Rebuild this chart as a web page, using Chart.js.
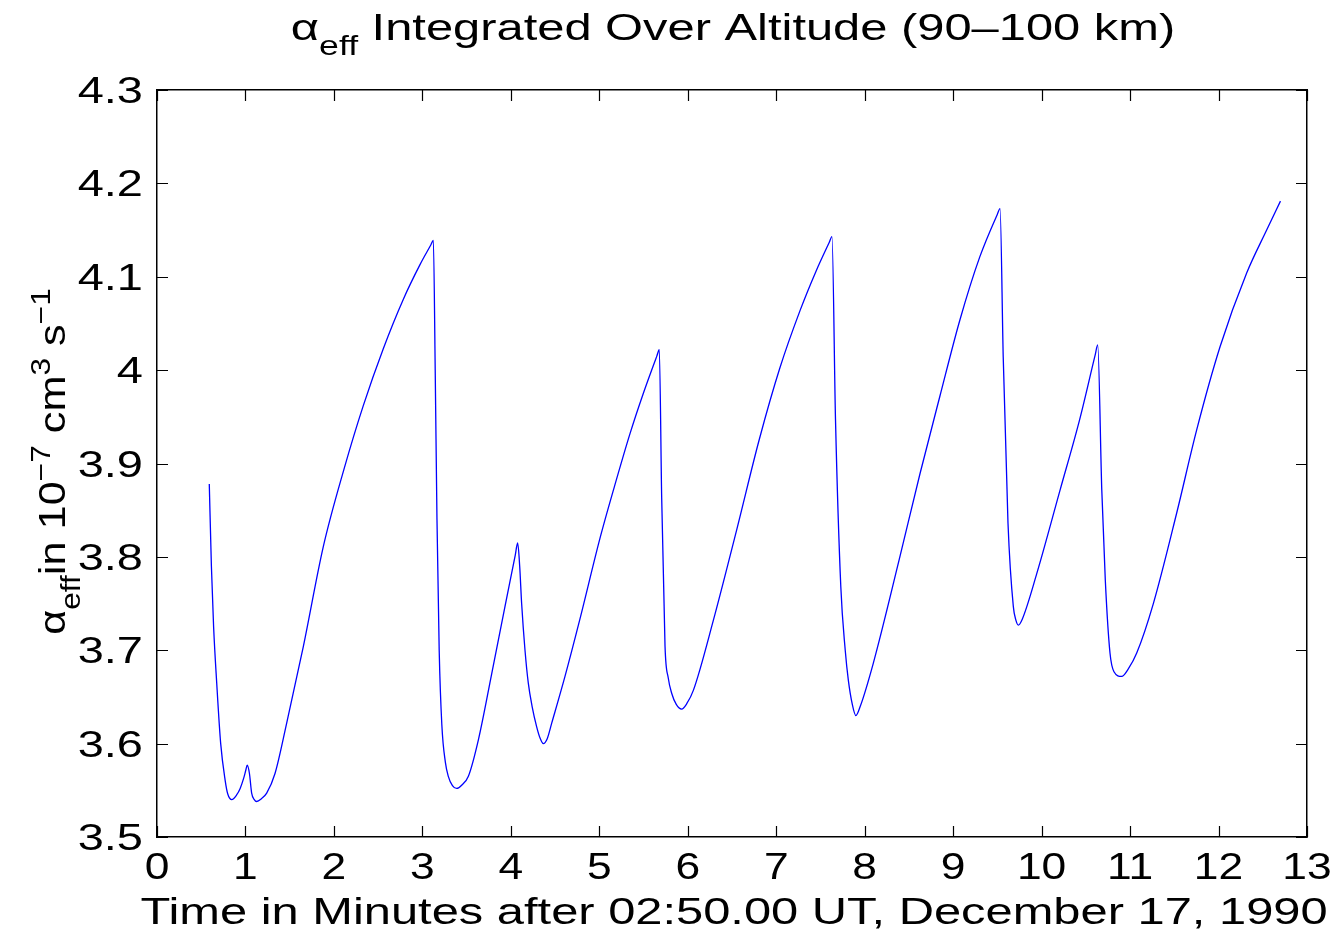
<!DOCTYPE html>
<html>
<head>
<meta charset="utf-8">
<title>alpha_eff integrated over altitude</title>
<script src="https://cdn.jsdelivr.net/npm/chart.js@4/dist/chart.umd.min.js"></script>
<style>
  html, body { margin: 0; padding: 0; background: #ffffff; }
  #wrap { width: 1339px; height: 931px; position: relative; }
</style>
</head>
<body>
<div id="wrap"><canvas id="c" width="1339" height="931"></canvas></div>
<script>
// Time in minutes after 02:50:00 UT, 17 Dec 1990
const timeMinutes = [
  0.591, 0.615, 0.64, 0.675, 0.72, 0.77, 0.80, 0.845, 0.90, 0.94, 0.98, 1.005, 1.02,
  1.045, 1.07, 1.10, 1.127, 1.18, 1.24, 1.334, 1.466, 1.654, 1.88, 2.114, 2.332,
  2.558, 2.785, 2.973, 3.095, 3.124, 3.145, 3.165, 3.19, 3.22, 3.26, 3.293, 3.34, 3.388,
  3.45, 3.52, 3.633, 3.784, 3.934, 4.05, 4.077, 4.10, 4.122, 4.16, 4.197, 4.24, 4.292,
  4.33, 4.367, 4.41, 4.462, 4.612, 4.78, 5.008, 5.17, 5.347, 5.497, 5.65, 5.678, 5.705, 5.743,
  5.78, 5.818, 5.87, 5.931, 5.99, 6.063, 6.289, 6.553, 6.809, 7.04, 7.27, 7.45,
  7.60, 7.63, 7.67, 7.73, 7.78, 7.815, 7.86, 7.90, 7.95, 8.097, 8.39, 8.625, 8.85,
  9.077, 9.30, 9.50, 9.53, 9.566, 9.62, 9.68, 9.71, 9.737, 9.78, 9.945, 10.21, 10.43,
  10.605, 10.634, 10.68, 10.72, 10.773, 10.818, 10.905, 10.98, 11.075, 11.263, 11.527, 11.753, 12.017,
  12.318, 12.544, 12.70
];

// Effective recombination coefficient, units of 1e-7 cm^3 s^-1
const alphaEff = [
  3.878, 3.790, 3.725, 3.665, 3.600, 3.561, 3.546, 3.540, 3.545, 3.552, 3.563, 3.572, 3.577,
  3.568, 3.547, 3.540, 3.538, 3.541, 3.547, 3.568, 3.622, 3.704, 3.811, 3.894, 3.962,
  4.023, 4.076, 4.113, 4.134, 4.139, 4.000, 3.840, 3.700, 3.620, 3.580, 3.565, 3.555, 3.552,
  3.556, 3.565, 3.604, 3.675, 3.747, 3.802, 3.815, 3.790, 3.750, 3.700, 3.665, 3.640, 3.618,
  3.606, 3.600, 3.605, 3.622, 3.672, 3.733, 3.820, 3.875, 3.932, 3.975, 4.015, 4.022, 3.864, 3.704,
  3.670, 3.654, 3.642, 3.637, 3.643, 3.657, 3.732, 3.829, 3.926, 4.002, 4.064, 4.106,
  4.137, 4.143, 3.947, 3.768, 3.700, 3.668, 3.642, 3.630, 3.640, 3.686, 3.797, 3.889, 3.972,
  4.054, 4.121, 4.167, 4.173, 4.014, 3.836, 3.747, 3.732, 3.727, 3.733, 3.782, 3.872, 3.947,
  4.016, 4.027, 3.872, 3.775, 3.697, 3.677, 3.672, 3.680, 3.697, 3.750, 3.847, 3.936, 4.025,
  4.104, 4.150, 4.181
];

const xTickLabels = ['0','1','2','3','4','5','6','7','8','9','10','11','12','13'];
const yTickLabels = ['3.5','3.6','3.7','3.8','3.9','4','4.1','4.2','4.3'];

const titleParts = [
  { t: 'α', size: 37, dy: 0 },
  { t: 'eff', size: 27, dy: 15 },
  { t: ' Integrated Over Altitude (90–100 km)', size: 37, dy: 0 }
];
const yLabelParts = [
  { t: 'α', size: 37, dy: 0 },
  { t: 'eff', size: 27, dy: 15 },
  { t: 'in 10', size: 37, dy: 0 },
  { t: '−7', size: 27, dy: -15 },
  { t: ' cm', size: 37, dy: 0 },
  { t: '3', size: 27, dy: -15 },
  { t: ' s', size: 37, dy: 0 },
  { t: '−1', size: 27, dy: -15 }
];
const xLabelText = 'Time in Minutes after 02:50.00 UT, December 17, 1990';

const FONT = '"Liberation Sans", Arial, Helvetica, sans-serif';
const TICK_SIZE = 37;

// Mixed-size text (sub/superscripts) centred on (0, 0) in the current transform.
function drawRich(ctx, parts) {
  let total = 0;
  const widths = parts.map(p => {
    ctx.font = p.size + 'px ' + FONT;
    const w = ctx.measureText(p.t).width;
    total += w;
    return w;
  });
  let x = -total / 2;
  ctx.textBaseline = 'alphabetic';
  ctx.textAlign = 'left';
  parts.forEach((p, i) => {
    ctx.font = p.size + 'px ' + FONT;
    ctx.fillText(p.t, x, p.dy);
    x += widths[i];
  });
}

// Text widened along its reading direction, anchored at (x, y).
function wideText(ctx, text, x, y, sx, align, baseline) {
  ctx.save();
  ctx.translate(x, y);
  ctx.scale(sx, 1);
  ctx.textAlign = align;
  ctx.textBaseline = baseline;
  ctx.fillText(text, 0, 0);
  ctx.restore();
}

const frame = {
  id: 'frame',
  afterDraw(chart) {
    const ctx = chart.ctx;
    const a = chart.chartArea;
    const xs = chart.scales.x, ys = chart.scales.y;
    const len = 11;
    ctx.save();
    ctx.strokeStyle = '#000';
    ctx.lineWidth = 1.2;
    ctx.beginPath();
    xs.ticks.forEach(t => {
      const px = Math.round(xs.getPixelForValue(t.value)) + 0.5;
      ctx.moveTo(px, a.bottom); ctx.lineTo(px, a.bottom - len);
      ctx.moveTo(px, a.top); ctx.lineTo(px, a.top + len);
    });
    ys.ticks.forEach(t => {
      const py = Math.round(ys.getPixelForValue(t.value)) + 0.5;
      ctx.moveTo(a.left, py); ctx.lineTo(a.left + len, py);
      ctx.moveTo(a.right, py); ctx.lineTo(a.right - len, py);
    });
    ctx.stroke();

    ctx.fillStyle = '#000';
    ctx.font = TICK_SIZE + 'px ' + FONT;
    xs.ticks.forEach((t, i) => {
      const px = xs.getPixelForValue(t.value);
      wideText(ctx, xTickLabels[i] ?? String(t.value), px, a.bottom + 42, 1.2, 'center', 'alphabetic');
    });
    ys.ticks.forEach((t, i) => {
      const py = ys.getPixelForValue(t.value);
      const lab = yTickLabels[i] ?? String(Math.round(t.value * 10) / 10);
      wideText(ctx, lab, a.left - 14, py + 13, 1.27, 'right', 'alphabetic');
    });

    const cx = (a.left + a.right) / 2;
    ctx.save();
    ctx.translate(cx + 1, 40);
    ctx.scale(1.32, 1);
    drawRich(ctx, titleParts);
    ctx.restore();

    ctx.font = TICK_SIZE + 'px ' + FONT;
    wideText(ctx, xLabelText, cx + 2, 924, 1.32, 'center', 'alphabetic');

    ctx.save();
    ctx.translate(65, (a.top + a.bottom) / 2 - 2);
    ctx.rotate(-Math.PI / 2);
    ctx.scale(1.17, 1);
    drawRich(ctx, yLabelParts);
    ctx.restore();
    ctx.restore();
  }
};

const points = timeMinutes.map((t, i) => ({ x: t, y: alphaEff[i] }));

new Chart(document.getElementById('c'), {
  type: 'line',
  data: {
    datasets: [{
      data: points,
      borderColor: '#0000ff',
      borderWidth: 1.3,
      pointRadius: 0,
      cubicInterpolationMode: 'monotone',
      fill: false
    }]
  },
  options: {
    responsive: false,
    animation: false,
    layout: { padding: 0 },
    plugins: { legend: { display: false }, tooltip: { enabled: false }, title: { display: false } },
    scales: {
      x: {
        type: 'linear', position: 'bottom', min: 0, max: 13,
        ticks: { stepSize: 1, display: false },
        grid: { drawOnChartArea: false, drawTicks: false },
        border: { display: true, color: '#000', width: 1.5 },
        afterFit: s => { s.height = 94; }
      },
      y: {
        type: 'linear', position: 'left', min: 3.5, max: 4.3,
        ticks: { stepSize: 0.1, display: false },
        grid: { drawOnChartArea: false, drawTicks: false },
        border: { display: true, color: '#000', width: 1.5 },
        afterFit: s => { s.width = 157; }
      },
      xTop: {
        type: 'linear', position: 'top', min: 0, max: 13,
        ticks: { display: false },
        grid: { drawOnChartArea: false, drawTicks: false },
        border: { display: true, color: '#000', width: 1.5 },
        afterFit: s => { s.height = 90; }
      },
      yRight: {
        type: 'linear', position: 'right', min: 3.5, max: 4.3,
        ticks: { display: false },
        grid: { drawOnChartArea: false, drawTicks: false },
        border: { display: true, color: '#000', width: 1.5 },
        afterFit: s => { s.width = 32; }
      }
    }
  },
  plugins: [frame]
});
</script>
</body>
</html>
